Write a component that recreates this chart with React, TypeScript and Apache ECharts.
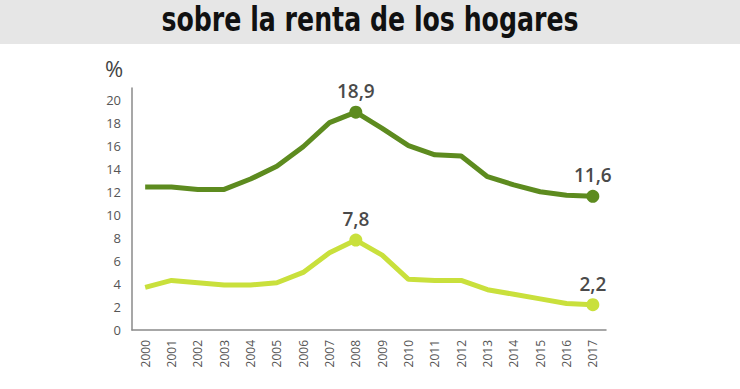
import React, { useEffect, useRef } from "react";
import * as echarts from "echarts";

const title = "sobre la renta de los hogares";
const unitLabel = "%";
const years = ["2000","2001","2002","2003","2004","2005","2006","2007","2008","2009","2010","2011","2012","2013","2014","2015","2016","2017"];
const seriesHigh = [12.4, 12.4, 12.2, 12.2, 13.1, 14.2, 15.9, 18.0, 18.9, 17.5, 16.0, 15.2, 15.1, 13.3, 12.6, 12.0, 11.7, 11.6];
const seriesLow = [3.7, 4.3, 4.1, 3.9, 3.9, 4.1, 5.0, 6.7, 7.8, 6.5, 4.4, 4.3, 4.3, 3.5, 3.1, 2.7, 2.3, 2.2];
const labeledYears = ["2008", "2017"];

const DARK = "#5d8b1f";
const LIGHT = "#c9e03c";

function buildData(values: number[], color: string) {
  return values.map((v, i) => {
    const on = labeledYears.includes(years[i]);
    return on
      ? {
          value: v,
          symbol: "circle",
          symbolSize: 13,
          itemStyle: { color },
          label: {
            show: true,
            position: "top",
            distance: 5,
            formatter: () => v.toFixed(1).replace(".", ","),
            color: "#4a4a4a",
            fontSize: 19,
            fontWeight: 600,
            fontFamily: "Open Sans",
          },
        }
      : { value: v, symbol: "none", symbolSize: 0 };
  });
}

export default function App() {
  const ref = useRef<HTMLDivElement>(null);
  useEffect(() => {
    if (!ref.current) return;
    const chart = echarts.init(ref.current, undefined, { renderer: "svg" });
    chart.setOption({
      animation: false,
      backgroundColor: "#ffffff",
      graphic: [
        {
          type: "rect",
          left: 0,
          top: 0,
          shape: { width: 740, height: 44 },
          style: { fill: "#e6e6e6" },
          silent: true,
        },
        {
          type: "text",
          x: 370,
          y: 20,
          scaleX: 0.85,
          style: {
            text: title,
            fill: "#111",
            font: "bold 33px 'Liberation Sans Narrow', 'DejaVu Sans Condensed', sans-serif",
            align: "center",
            verticalAlign: "middle",
          },
        },
        {
          type: "text",
          x: 114,
          y: 68,
          style: {
            text: unitLabel,
            fill: "#444",
            font: "22px 'Open Sans', sans-serif",
            align: "center",
            verticalAlign: "middle",
          },
        },
      ],
      grid: { left: 132, right: 134, top: 88, bottom: 59 },
      xAxis: {
        type: "category",
        data: years,
        boundaryGap: true,
        axisLine: { lineStyle: { color: "#8a8a8a", width: 1.5 } },
        axisTick: { show: false },
        axisLabel: {
          rotate: 90,
          color: "#555",
          fontSize: 12,
          fontFamily: "Open Sans",
          margin: 10,
          interval: 0,
        },
      },
      yAxis: {
        type: "value",
        min: 0,
        max: 21,
        interval: 2,
        splitLine: { show: false },
        axisLine: { show: true, lineStyle: { color: "#8a8a8a", width: 1.5 } },
        axisTick: { show: false },
        axisLabel: {
          color: "#555",
          fontSize: 13,
          fontFamily: "Open Sans",
          margin: 11,
          showMaxLabel: false,
        },
      },
      series: [
        {
          type: "line",
          data: buildData(seriesHigh, DARK),
          lineStyle: { color: DARK, width: 5 },
          itemStyle: { color: DARK },
          symbol: "none",
          z: 3,
        },
        {
          type: "line",
          data: buildData(seriesLow, LIGHT),
          lineStyle: { color: LIGHT, width: 5 },
          itemStyle: { color: LIGHT },
          symbol: "none",
          z: 2,
        },
      ],
    });
    return () => chart.dispose();
  }, []);
  return <div ref={ref} style={{ width: 740, height: 389, position: "absolute", left: 0, top: 0 }} />;
}
